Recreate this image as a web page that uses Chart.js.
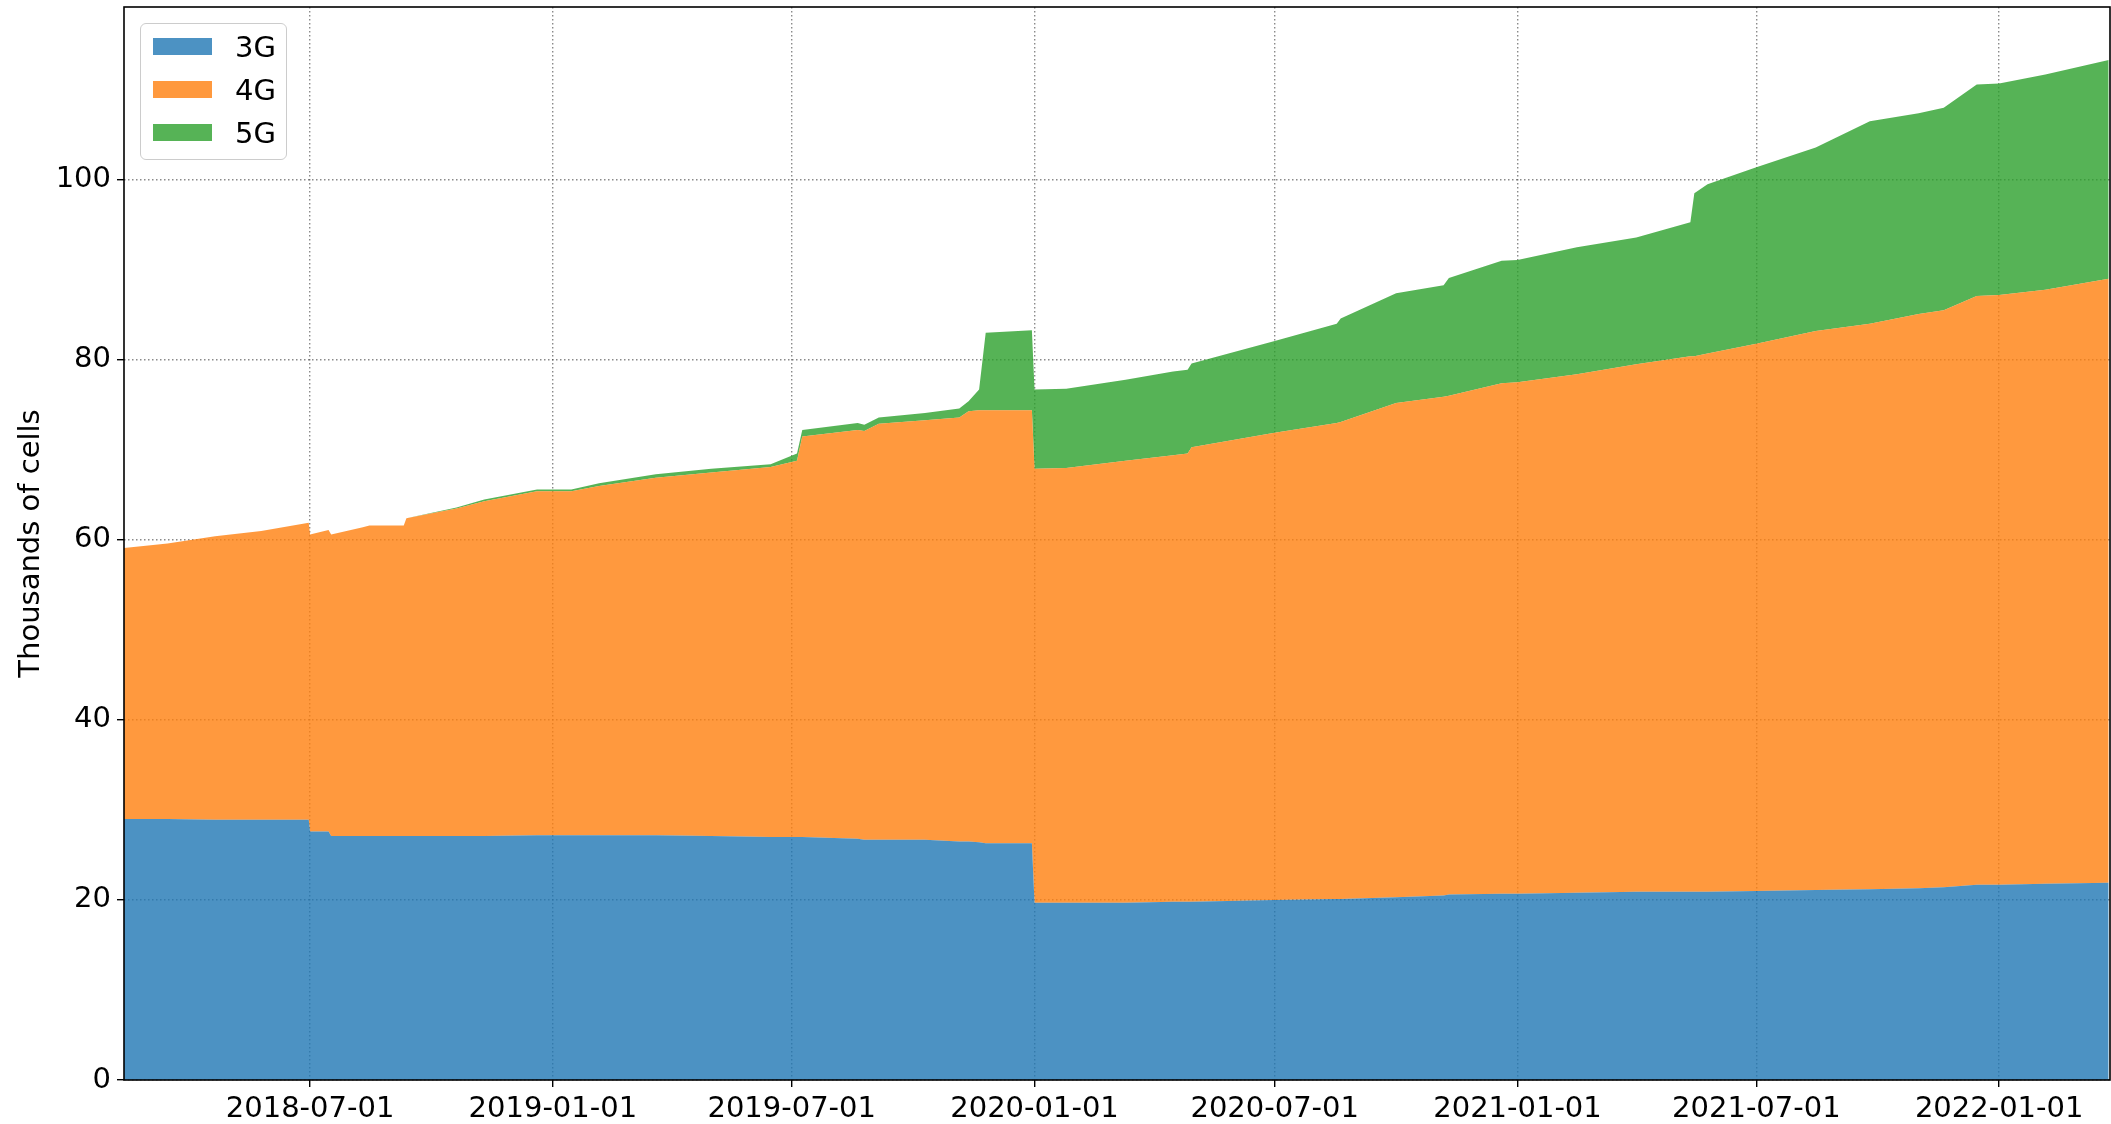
<!DOCTYPE html>
<html>
<head>
<meta charset="utf-8">
<title>Thousands of cells by technology</title>
<script src="https://cdn.jsdelivr.net/npm/chart.js@4/dist/chart.umd.min.js"></script>
<style>
    html, body { margin: 0; padding: 0; background: #fff; }
    #wrap { position: relative; width: 2111px; height: 1124px; }
    #legend {
        position: absolute; left: 140px; top: 23px; width: 145px; height: 135px;
        border: 1.5px solid #cccccc; border-radius: 6px; background: rgba(255,255,255,0.8);
        font-family: 'DejaVu Sans', sans-serif; font-size: 29px; color: #000;
    }
    #legend .item { position: absolute; left: 0; height: 34px; line-height: 34px; }
    #legend .swatch { position: absolute; left: 12px; top: 8px; width: 59px; height: 17px; }
    #legend .label { position: absolute; left: 94px; top: 0; white-space: nowrap; }
</style>
</head>
<body>
<div id="wrap">
    <canvas id="cellsChart"></canvas>
    <div id="legend"></div>
</div>
<script>
// values, thousands of cells
const dates = [
    '2018-02-10', '2018-03-15', '2018-04-20', '2018-05-25', '2018-06-30', '2018-07-01', '2018-07-15', '2018-07-17', '2018-08-10', '2018-08-15',
    '2018-09-10', '2018-09-12', '2018-10-20', '2018-11-10', '2018-12-20', '2019-01-15', '2019-02-05', '2019-03-20', '2019-05-01', '2019-06-15',
    '2019-07-05', '2019-07-09', '2019-08-20', '2019-08-25', '2019-09-05', '2019-10-10', '2019-11-05', '2019-11-12', '2019-11-20', '2019-11-25',
    '2019-12-30', '2020-01-01', '2020-01-25', '2020-03-10', '2020-04-15', '2020-04-26', '2020-04-29', '2020-07-01', '2020-08-17', '2020-08-20',
    '2020-10-01', '2020-11-06', '2020-11-10', '2020-12-20', '2021-01-01', '2021-02-15', '2021-04-01', '2021-05-12', '2021-05-15', '2021-05-25',
    '2021-07-01', '2021-08-15', '2021-09-25', '2021-11-01', '2021-11-20', '2021-12-15', '2022-01-01', '2022-02-05', '2022-03-25'
];
const cells3g = [
    29.0, 29.0, 28.9, 28.9, 28.9, 27.6, 27.6, 27.1, 27.1, 27.1,
    27.1, 27.1, 27.1, 27.1, 27.2, 27.2, 27.2, 27.2, 27.1, 27.0,
    27.0, 27.0, 26.8, 26.7, 26.7, 26.7, 26.5, 26.5, 26.4, 26.3,
    26.3, 19.7, 19.7, 19.7, 19.8, 19.8, 19.8, 20.0, 20.1, 20.1,
    20.3, 20.5, 20.6, 20.7, 20.7, 20.8, 20.9, 20.9, 20.9, 20.9,
    21.0, 21.1, 21.2, 21.3, 21.4, 21.7, 21.7, 21.8, 21.9
];
const cells4g = [
    30.1, 30.6, 31.5, 32.1, 33.0, 33.0, 33.5, 33.5, 34.3, 34.5,
    34.5, 35.3, 36.4, 37.2, 38.2, 38.2, 38.8, 39.7, 40.4, 41.1,
    41.8, 44.5, 45.4, 45.4, 46.2, 46.6, 47.1, 47.8, 48.0, 48.1,
    48.1, 48.2, 48.3, 49.1, 49.6, 49.8, 50.5, 51.9, 52.9, 53.0,
    54.9, 55.4, 55.4, 56.7, 56.8, 57.6, 58.6, 59.5, 59.5, 59.8,
    60.8, 62.1, 62.8, 63.8, 64.1, 65.4, 65.5, 66.0, 67.1
];
const cells5g = [
    0, 0, 0, 0, 0, 0, 0, 0, 0, 0,
    0, 0, 0.1, 0.2, 0.2, 0.2, 0.3, 0.4, 0.4, 0.3,
    0.8, 0.7, 0.8, 0.7, 0.7, 0.8, 1.0, 1.1, 2.3, 8.6,
    8.9, 8.8, 8.8, 9.0, 9.3, 9.3, 9.3, 10.2, 11.0, 11.5,
    12.2, 12.4, 13.1, 13.6, 13.6, 14.1, 14.1, 14.9, 18.1, 18.8,
    19.6, 20.4, 22.5, 22.3, 22.5, 23.5, 23.5, 23.9, 24.3
];
const seriesLabels = ['3G', '4G', '5G'];
const xTickDates = ['2018-07-01', '2019-01-01', '2019-07-01', '2020-01-01', '2020-07-01', '2021-01-01', '2021-07-01', '2022-01-01'];
const yTicks = [0, 20, 40, 60, 80, 100];
const xRange = ['2018-02-10', '2022-03-26'];
const yMax = 119.2;

const colors = ['rgba(31, 119, 180, 0.8)', 'rgba(255, 127, 14, 0.8)', 'rgba(44, 160, 44, 0.8)'];

document.addEventListener("DOMContentLoaded", function () {
    renderCellsChart();
});

function toPoints(values) {
    return dates.map((d, i) => ({ x: Date.parse(d), y: values[i] }));
}

function formatDate(value) {
    return new Date(value).toISOString().slice(0, 10);
}

/**
 * Build the legend as html, from the chart's own datasets.
 */
const htmlLegend = {
    id: 'htmlLegend',
    afterUpdate(chart) {
        const box = document.getElementById('legend');
        box.innerHTML = '';
        chart.data.datasets.forEach((ds, i) => {
            const item = document.createElement('div');
            item.className = 'item';
            item.style.top = (6 + i * 43) + 'px';
            item.style.width = '100%';
            const sw = document.createElement('span');
            sw.className = 'swatch';
            sw.style.background = ds.backgroundColor;
            const lb = document.createElement('span');
            lb.className = 'label';
            lb.textContent = ds.label;
            item.appendChild(sw);
            item.appendChild(lb);
            box.appendChild(item);
        });
    }
};

// black box round the plot area, like the matplotlib spines
const frame = {
    id: 'frame',
    afterDraw(chart) {
        const { ctx, chartArea: a } = chart;
        ctx.save();
        ctx.strokeStyle = '#000';
        ctx.lineWidth = 1.6;
        ctx.strokeRect(a.left, a.top, a.right - a.left, a.bottom - a.top);
        ctx.restore();
    }
};

function renderCellsChart() {
    Chart.defaults.font.family = "'DejaVu Sans', sans-serif";
    Chart.defaults.color = '#000';

    const gridOpts = {
        color: 'rgba(60, 60, 60, 0.6)',
        lineWidth: 1.4,
        tickColor: '#000',
        tickWidth: 1.4,
        tickLength: 7
    };

    new Chart(document.getElementById('cellsChart'), {
        type: 'line',
        data: {
            datasets: [cells3g, cells4g, cells5g].map((vals, i) => ({
                label: seriesLabels[i],
                data: toPoints(vals),
                backgroundColor: colors[i],
                borderWidth: 0,
                pointRadius: 0,
                tension: 0,
                fill: i === 0 ? 'origin' : '-1'
            }))
        },
        options: {
            responsive: true,
            maintainAspectRatio: false,
            animation: false,
            layout: { padding: { top: 7, right: 1, left: 0, bottom: 0 } },
            plugins: {
                legend: { display: false },
                tooltip: { enabled: false }
            },
            scales: {
                x: {
                    type: 'linear',
                    z: 1,
                    min: Date.parse(xRange[0]),
                    max: Date.parse(xRange[1]),
                    grid: gridOpts,
                    border: { display: false, dash: [1.5, 2.5] },
                    afterBuildTicks: scale => {
                        scale.ticks = xTickDates.map(d => ({ value: Date.parse(d) }));
                    },
                    afterFit: scale => {
                        scale.height = 44;
                        scale.paddingLeft = 0;
                        scale.paddingRight = 0;
                    },
                    ticks: {
                        autoSkip: false,
                        maxRotation: 0,
                        padding: 5,
                        font: { size: 29 },
                        callback: value => formatDate(value)
                    }
                },
                y: {
                    stacked: true,
                    z: 1,
                    min: 0,
                    max: yMax,
                    grid: gridOpts,
                    border: { display: false, dash: [1.5, 2.5] },
                    afterBuildTicks: scale => {
                        scale.ticks = yTicks.map(v => ({ value: v }));
                    },
                    afterFit: scale => {
                        scale.width = 124;
                        scale.paddingTop = 0;
                        scale.paddingBottom = 0;
                    },
                    ticks: {
                        padding: 6,
                        font: { size: 29 }
                    },
                    title: {
                        display: true,
                        text: 'Thousands of cells',
                        font: { size: 29 },
                        padding: { top: 14, bottom: 0 }
                    }
                }
            }
        },
        plugins: [htmlLegend, frame]
    });
}
</script>
</body>
</html>
